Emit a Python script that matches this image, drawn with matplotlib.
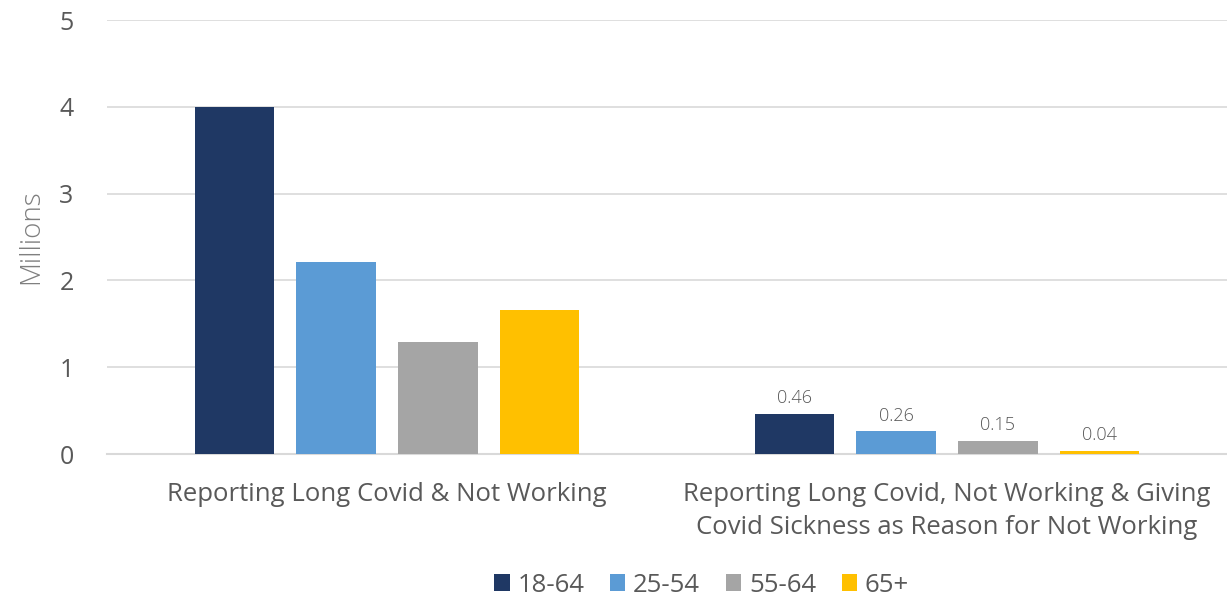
import numpy as np
import matplotlib.pyplot as plt

plt.rcParams['font.family'] = ['Open Sans', 'DejaVu Sans']

categories = ["Reporting Long Covid & Not Working",
              "Reporting Long Covid, Not Working & Giving\nCovid Sickness as Reason for Not Working"]
age_groups = ["18-64", "25-54", "55-64", "65+"]
values = {
    "18-64": [4.00, 0.46],
    "25-54": [2.21, 0.26],
    "55-64": [1.29, 0.15],
    "65+":   [1.66, 0.04],
}
colors = ["#1f3864", "#5b9bd5", "#a5a5a5", "#ffc000"]

fig = plt.figure(figsize=(12.27, 5.99), dpi=100)
ax = fig.add_axes([0.0872, 0.242, 0.9128, 0.7246])

x = np.arange(len(categories))
width = 0.142
step = 0.1815
for i, (grp, col) in enumerate(zip(age_groups, colors)):
    offs = (i - 1.5) * step
    ax.bar(x + offs, values[grp], width, color=col, label=grp, zorder=3)
    # only the second group carries data labels
    v = values[grp][1]
    ax.text(x[1] + offs, v + 0.08, f"{v:.2f}", ha='center', va='bottom',
            fontsize=13, color='#595959', fontweight='light')

ax.set_xlim(-0.5, 1.5)
ax.set_ylim(0, 5)
ax.set_yticks(range(6))
ax.grid(axis='y', color='#d9d9d9', linewidth=1.2, zorder=0)
ax.axhline(0, color='#d9d9d9', linewidth=1.5, zorder=1, clip_on=False)
for s in ax.spines.values():
    s.set_visible(False)
ax.tick_params(axis='both', length=0, labelsize=18, colors='#595959')
ax.tick_params(axis='y', pad=24)
ax.tick_params(axis='x', pad=20)
ax.set_xticks(x)
ax.set_xticklabels(categories, fontsize=18.5, linespacing=1.45)
ax.set_ylabel("Millions", fontsize=20, color='#7f7f7f', labelpad=10, fontweight='light')

ax.legend(loc='center', bbox_to_anchor=(0.531, -0.302), ncol=4, frameon=False,
          fontsize=18.5, handlelength=0.6, handleheight=0.6, handletextpad=0.3,
          columnspacing=1.0, labelcolor='#595959')

fig.savefig("out.png", dpi=100)
